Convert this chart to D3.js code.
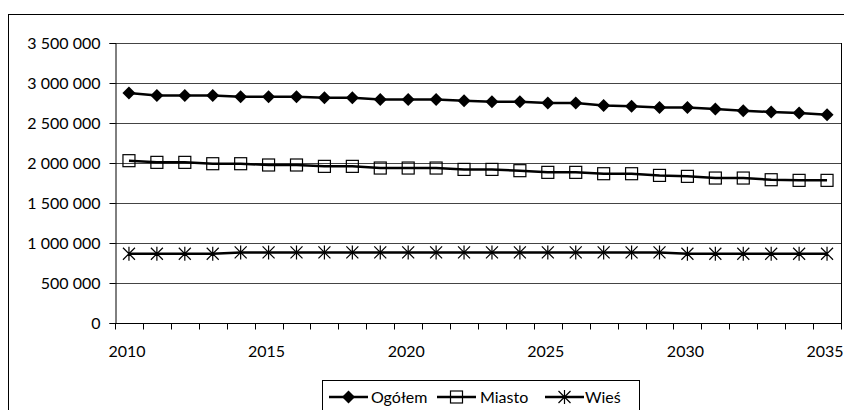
<!DOCTYPE html>
<html>
<head>
<meta charset="utf-8">
<script src="https://cdn.jsdelivr.net/npm/d3@7"></script>
<style>
  html, body { margin: 0; padding: 0; background: #fff; overflow: hidden; }
  svg { display: block; }
  text { font-family: Lato, "Open Sans", sans-serif; fill: #000; }
</style>
</head>
<body>
<svg id="chart" width="844" height="410"></svg>
<script>
// Population forecast 2010–2035: total, urban and rural
const years = d3.range(2010, 2036);
const ogolem = [2875000, 2845000, 2845000, 2845000, 2829000, 2829000, 2829000, 2816000, 2815000, 2795000,
                2795000, 2795000, 2779000, 2766000, 2766000, 2750000, 2750000, 2720000, 2708000, 2695000,
                2695000, 2675000, 2654000, 2638000, 2625000, 2604000];
const miasto = [2029000, 2008000, 2008000, 1991000, 1991000, 1975000, 1975000, 1958000, 1958000, 1937000,
                1937000, 1937000, 1920000, 1920000, 1904000, 1883000, 1883000, 1866000, 1866000, 1845000,
                1833000, 1812000, 1812000, 1791000, 1783000, 1783000];
const wies   = [866000, 866000, 866000, 866000, 882000, 882000, 882000, 882000, 882000, 882000,
                882000, 882000, 882000, 882000, 882000, 882000, 882000, 882000, 882000, 882000,
                866000, 866000, 866000, 866000, 866000, 866000];
const seriesNames = ["Ogółem", "Miasto", "Wieś"];
const yTicks = [0, 500000, 1000000, 1500000, 2000000, 2500000, 3000000, 3500000];
const xLabels = [2010, 2015, 2020, 2025, 2030, 2035];

const svg = d3.select("#chart");
const plot = { left: 115, right: 841, top: 43, bottom: 323 };
const fontSize = 16;

const x = d3.scaleBand().domain(years).range([plot.left, plot.right]).paddingInner(0).paddingOuter(0);
const y = d3.scaleLinear().domain([0, 3500000]).range([plot.bottom, plot.top]);

const fmt = d3.formatLocale({ decimal: ",", thousands: " ", grouping: [3], currency: ["", ""] }).format(",");

// outer chart frame
svg.append("rect").attr("x", 8.5).attr("y", 14.5).attr("width", 900).attr("height", 500)
  .attr("fill", "none").attr("stroke", "#000").attr("stroke-width", 1);

// horizontal gridlines
svg.append("g").selectAll("line").data(yTicks.filter(d => d > 0)).join("line")
  .attr("x1", plot.left).attr("x2", plot.right)
  .attr("y1", d => Math.round(y(d)) + 0.5).attr("y2", d => Math.round(y(d)) + 0.5)
  .attr("stroke", "#444").attr("stroke-width", 1);

// right edge of the plot area
svg.append("line")
  .attr("x1", plot.right + 0.5).attr("x2", plot.right + 0.5)
  .attr("y1", plot.top).attr("y2", plot.bottom)
  .attr("stroke", "#000");

// y axis
const yAxis = d3.axisLeft(y).tickValues(yTicks).tickFormat(fmt).tickSize(6).tickPadding(9);
const gy = svg.append("g").attr("transform", `translate(${plot.left + 0.5},0)`).call(yAxis);
gy.select(".domain").attr("stroke", "#000");
gy.selectAll(".tick line").attr("stroke", "#000");
gy.selectAll("text").attr("font-size", fontSize).style("font-family", "Lato, 'Open Sans', sans-serif");

// x axis: line, boundary tick marks, labels under every fifth year
const gx = svg.append("g").attr("transform", `translate(0,${Math.round(plot.bottom) + 0.5})`);
gx.append("line").attr("x1", plot.left).attr("x2", plot.right + 1).attr("stroke", "#000");
const bounds = years.map(d => x(d)).concat([x.range()[1]]);
gx.selectAll("line.tk").data(bounds).join("line").attr("class", "tk")
  .attr("x1", d => Math.round(d) + 0.5).attr("x2", d => Math.round(d) + 0.5)
  .attr("y1", 0).attr("y2", 6).attr("stroke", "#000");
gx.selectAll("text").data(xLabels).join("text")
  .attr("x", d => x(d) + x.bandwidth() / 2 - 2)
  .attr("y", 33)
  .attr("text-anchor", "middle")
  .attr("font-size", fontSize)
  .text(d => d);

// marker drawing
const markers = {
  diamond: (g) => g.append("path").attr("d", "M0,-6.5L6.5,0L0,6.5L-6.5,0Z").attr("fill", "#000"),
  square: (g) => g.append("rect").attr("x", -6).attr("y", -6).attr("width", 12).attr("height", 12)
    .attr("fill", "none").attr("stroke", "#000").attr("stroke-width", 1.2),
  star: (g) => g.append("path").attr("d", "M-6,-6L6,6M-6,6L6,-6M0,-7L0,7")
    .attr("stroke", "#000").attr("stroke-width", 1.2).attr("fill", "none")
};

const series = [
  { name: seriesNames[0], values: ogolem, marker: "diamond" },
  { name: seriesNames[1], values: miasto, marker: "square" },
  { name: seriesNames[2], values: wies, marker: "star" }
];

const line = d3.line().x((d, i) => x(years[i]) + x.bandwidth() / 2).y(d => y(d));

series.forEach(s => {
  const g = svg.append("g");
  g.append("path").datum(s.values).attr("d", line)
    .attr("fill", "none").attr("stroke", "#000").attr("stroke-width", 2.5).attr("stroke-linejoin", "round");
  g.selectAll("g.m").data(s.values).join("g").attr("class", "m")
    .attr("transform", (d, i) => `translate(${x(years[i]) + x.bandwidth() / 2},${y(d)})`)
    .each(function () { markers[s.marker](d3.select(this)); });
});

// legend
const legend = svg.append("g");
legend.append("rect").attr("x", 322.5).attr("y", 380.5).attr("width", 317).attr("height", 40)
  .attr("fill", "#fff").attr("stroke", "#000");
const legendItems = [
  { name: seriesNames[0], marker: "diamond", x0: 329, tx: 371 },
  { name: seriesNames[1], marker: "square", x0: 437, tx: 480 },
  { name: seriesNames[2], marker: "star", x0: 545, tx: 585 }
];
legendItems.forEach(it => {
  const g = legend.append("g");
  g.append("line").attr("x1", it.x0).attr("x2", it.x0 + 39).attr("y1", 397).attr("y2", 397)
    .attr("stroke", "#000").attr("stroke-width", 2.5);
  const m = g.append("g").attr("transform", `translate(${it.x0 + 19.5},397)`);
  markers[it.marker](m);
  g.append("text").attr("x", it.tx).attr("y", 403).attr("font-size", fontSize).text(it.name);
});
</script>
</body>
</html>
